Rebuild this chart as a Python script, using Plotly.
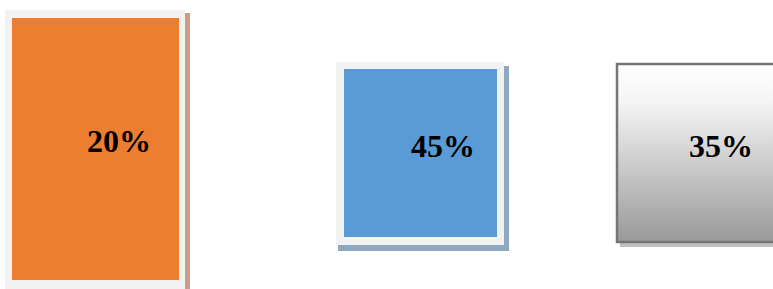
import plotly.graph_objects as go

# Data
categories = ["A", "B", "C"]
values = [20, 45, 35]
labels = [f"{v}%" for v in values]

# Box styling/geometry (pixel-space layout, not data)
boxes = [
    dict(frame=(5, 10, 185, 289), inner=(12, 18, 179, 280), shadow=(185, 13, 190, 289),
         fill="#ED7D31", frame_col="#F2F2F2", shadow_col="#C49F8A", text=(119, 141)),
    dict(frame=(336, 62, 504, 245), inner=(344, 69, 497, 237), shadow=(338, 66, 509, 251),
         fill="#5B9BD5", frame_col="#F2F2F2", shadow_col="#8EA8C0", text=(443, 146)),
    dict(frame=(617, 64, 776, 242), inner=None, shadow=(620, 66, 776, 247),
         fill="gradient", frame_col="#767676", shadow_col="#C0C0C0", text=(721, 146)),
]

fig = go.Figure()
shapes = []
annotations = []
for b, lab in zip(boxes, labels):
    sx0, sy0, sx1, sy1 = b["shadow"]
    shapes.append(dict(type="rect", xref="x", yref="y", x0=sx0, y0=sy0, x1=sx1, y1=sy1,
                       fillcolor=b["shadow_col"], line=dict(width=0), layer="below"))
    fx0, fy0, fx1, fy1 = b["frame"]
    if b["fill"] == "gradient":
        fig.add_trace(go.Scatter(
            x=[fx0, fx1, fx1, fx0, fx0], y=[fy0, fy0, fy1, fy1, fy0],
            mode="lines", fill="toself", line=dict(width=0),
            fillgradient=dict(type="vertical", start=fy0, stop=fy1,
                              colorscale=[[0, "#FFFFFF"], [0.22, "#F4F4F4"], [1, "#999999"]]),
            hoverinfo="skip", showlegend=False))
        shapes.append(dict(type="rect", xref="x", yref="y", x0=fx0, y0=fy0, x1=fx1, y1=fy1,
                           fillcolor="rgba(0,0,0,0)", line=dict(color=b["frame_col"], width=2.5)))
    else:
        shapes.append(dict(type="rect", xref="x", yref="y", x0=fx0, y0=fy0, x1=fx1, y1=fy1,
                           fillcolor=b["frame_col"], line=dict(width=0)))
        ix0, iy0, ix1, iy1 = b["inner"]
        shapes.append(dict(type="rect", xref="x", yref="y", x0=ix0, y0=iy0, x1=ix1, y1=iy1,
                           fillcolor=b["fill"], line=dict(width=0)))
    tx, ty = b["text"]
    annotations.append(dict(x=tx, y=ty, xref="x", yref="y", text=f"<b>{lab}</b>",
                            showarrow=False, xanchor="center", yanchor="middle",
                            font=dict(family="Liberation Serif", size=32, color="black")))

fig.update_layout(
    width=773, height=289,
    margin=dict(l=0, r=0, t=0, b=0),
    paper_bgcolor="white", plot_bgcolor="white",
    xaxis=dict(range=[0, 773], visible=False, fixedrange=True),
    yaxis=dict(range=[289, 0], visible=False, fixedrange=True),
    shapes=shapes, annotations=annotations, showlegend=False,
)
fig.write_html("out.html", config={"staticPlot": True},
               post_script="document.body.style.margin='0';document.body.style.overflow='hidden';")
